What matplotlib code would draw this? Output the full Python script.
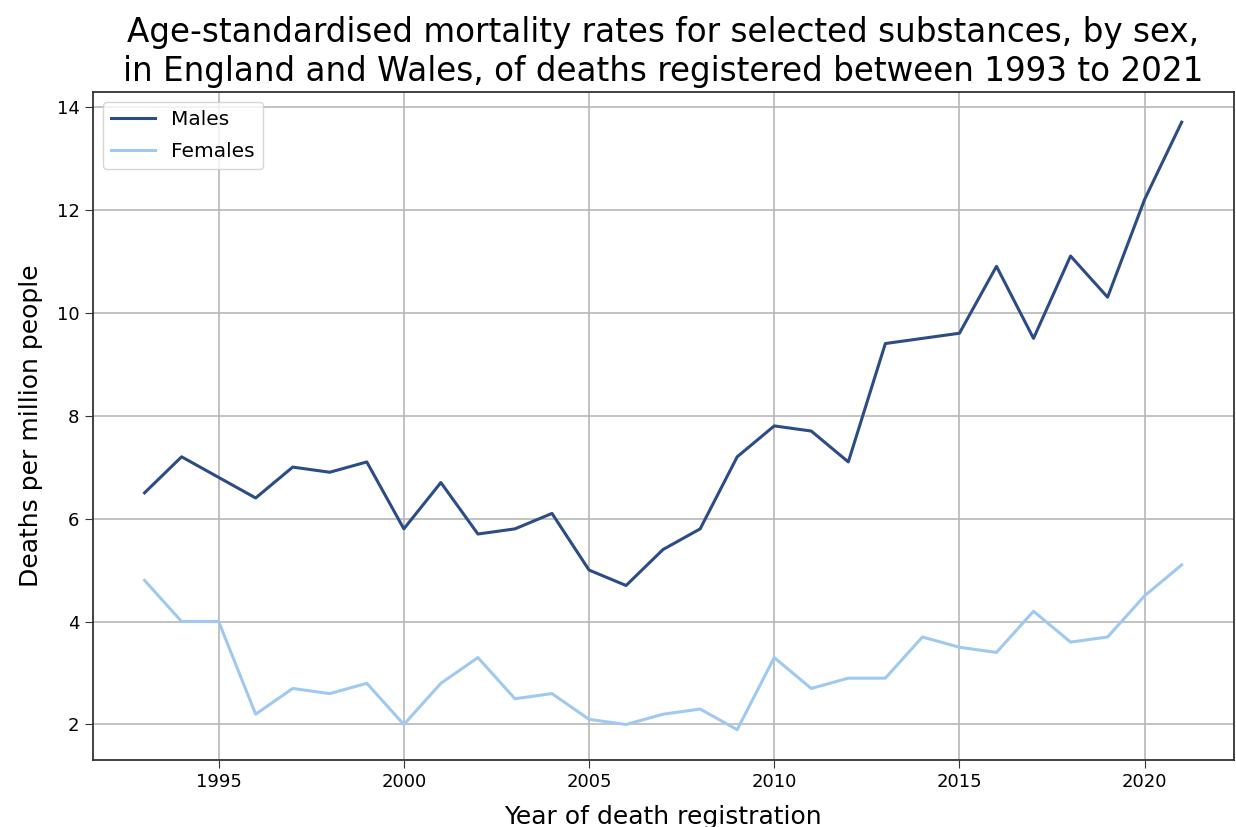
import matplotlib.pyplot as plt

years = list(range(1993, 2022))
males = [6.5, 7.2, 6.8, 6.4, 7.0, 6.9, 7.1, 5.8, 6.7, 5.7, 5.8, 6.1, 5.0, 4.7,
         5.4, 5.8, 7.2, 7.8, 7.7, 7.1, 9.4, 9.5, 9.6, 10.9, 9.5, 11.1, 10.3,
         12.2, 13.7]
females = [4.8, 4.0, 4.0, 2.2, 2.7, 2.6, 2.8, 2.0, 2.8, 3.3, 2.5, 2.6, 2.1, 2.0,
           2.2, 2.3, 1.9, 3.3, 2.7, 2.9, 2.9, 3.7, 3.5, 3.4, 4.2, 3.6, 3.7,
           4.5, 5.1]

fig = plt.figure(figsize=(12.36, 8.27), dpi=100)
ax = fig.add_axes([0.075, 0.081, 0.923, 0.808])

ax.plot(years, males, color='#2c4c85', lw=2.2, label='Males')
ax.plot(years, females, color='#a0c9f0', lw=2.2, label='Females')

ax.grid(True, color='#b8b8b8', lw=1.2)
ax.set_axisbelow(True)
for s in ax.spines.values():
    s.set_color('#333333')
    s.set_linewidth(1.3)
ax.tick_params(labelsize=13, length=6, color='#333333')
ax.set_xticks([1995, 2000, 2005, 2010, 2015, 2020])
ax.set_yticks([2, 4, 6, 8, 10, 12, 14])

ax.set_xlabel('Year of death registration', fontsize=18, labelpad=10)
ax.set_ylabel('Deaths per million people', fontsize=18, labelpad=10)
ax.set_title('Age-standardised mortality rates for selected substances, by sex,\n'
             'in England and Wales, of deaths registered between 1993 to 2021',
             fontsize=23.5, pad=8)
ax.legend(loc='upper left', fontsize=14.5, handlelength=2.2,
          labelspacing=0.65, borderaxespad=0.5)

fig.savefig('out.png')
